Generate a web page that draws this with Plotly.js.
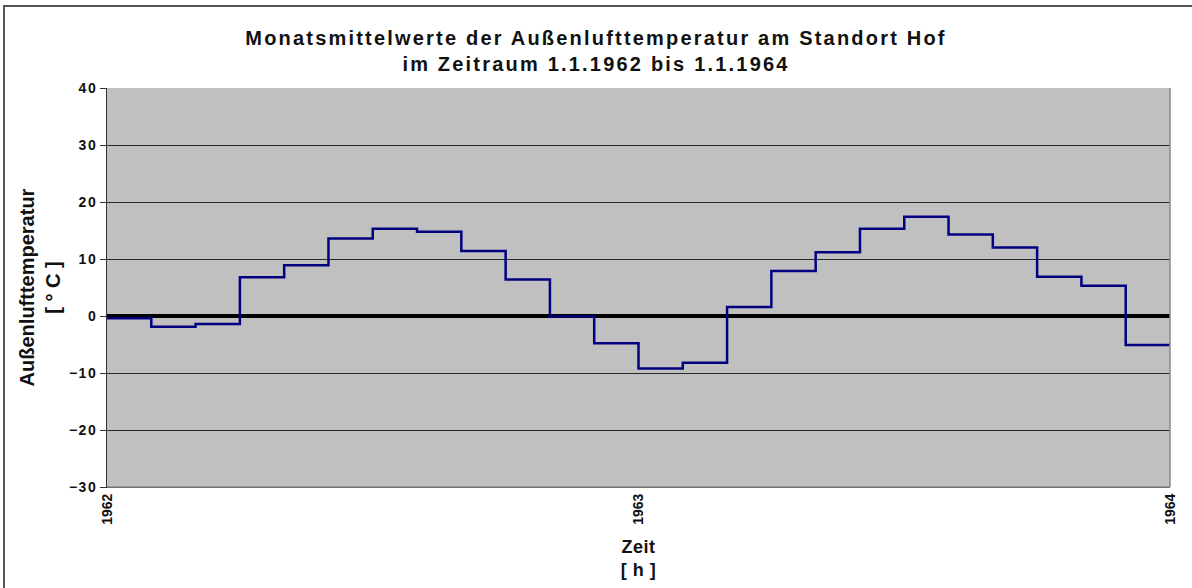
<!DOCTYPE html>
<html>
<head>
<meta charset="utf-8">
<script src="https://cdn.plot.ly/plotly-3.0.1.min.js"></script>
<style>
  body { margin: 0; background: #fff; }
  #chart { width: 1192px; height: 588px; }
  #frame { position: absolute; left: 3px; top: 5px; width: 1300px; height: 700px;
           border-left: 2px solid #555; border-top: 2px solid #555; pointer-events: none; }
  /* the original picture is stretched sideways; widen horizontal text a bit */
  .gtitle { letter-spacing: 2.2px; }
  .ytick text { letter-spacing: 1.5px; }
  .g-xtitle text { letter-spacing: 0.5px; }
</style>
</head>
<body>
<div id="chart"></div>
<div id="frame"></div>
<script>
// monthly means, Jan 1962 .. Dec 1963
const monthIndex = [0, 1, 2, 3, 4, 5, 6, 7, 8, 9, 10, 11, 12, 13, 14, 15, 16, 17, 18, 19, 20, 21, 22, 23, 24]
const temps = [-0.4, -1.9, -1.4, 6.8, 8.9, 13.6, 15.3, 14.8, 11.4, 6.4, -0.1, -4.8,
               -9.2, -8.2, 1.6, 7.9, 11.2, 15.3, 17.4, 14.3, 12.0, 6.9, 5.3, -5.1]
const yearTicks = [0, 12, 24]
const yearLabels = ['1962', '1963', '1964']

// repeat last value so the final step reaches 1964
const yVals = temps.concat([temps[temps.length - 1]])

const trace = {
  type: 'scatter',
  mode: 'lines',
  x: monthIndex,
  y: yVals,
  line: {shape: 'hv', color: '#000080', width: 2.5},
  hoverinfo: 'skip'
}

const fam = 'Liberation Sans, Arial, sans-serif'
const tickFont = {family: fam, size: 14, color: '#111', weight: 'bold'}

const layout = {
  width: 1192,
  height: 588,
  margin: {l: 107, r: 22, t: 88, b: 101},
  paper_bgcolor: '#ffffff',
  plot_bgcolor: '#c0c0c0',
  showlegend: false,
  title: {
    text: 'Monatsmittelwerte der Außenlufttemperatur am Standort Hof<br>im Zeitraum 1.1.1962 bis 1.1.1964',
    font: {family: fam, size: 20, color: '#111', weight: 'bold'},
    xref: 'container', x: 0.5, y: 0.923, yanchor: 'top'
  },
  xaxis: {
    range: [0, 24],
    tickvals: yearTicks,
    ticktext: yearLabels,
    tickangle: -90,
    tickfont: tickFont,
    ticks: '',
    showgrid: false,
    zeroline: false,
    showline: true,
    linecolor: '#333',
    linewidth: 1,
    title: {text: 'Zeit<br>[ h ]', font: {family: fam, size: 18, color: '#111', weight: 'bold'}, standoff: 16}
  },
  yaxis: {
    range: [-30, 40],
    dtick: 10,
    tickfont: tickFont,
    ticks: 'outside',
    ticklen: 6,
    tickcolor: '#333',
    showgrid: true,
    gridcolor: '#2a2a2a',
    gridwidth: 1,
    zeroline: true,
    zerolinecolor: '#000',
    zerolinewidth: 4.5,
    showline: true,
    linecolor: '#333',
    linewidth: 1,
    title: {text: 'Außenlufttemperatur<br>[ ° C ]', font: {family: fam, size: 20, color: '#111', weight: 'bold'}, standoff: 2}
  },
  shapes: [
    {type: 'line', xref: 'paper', yref: 'paper', x0: 1, x1: 1, y0: 0, y1: 1,
     line: {color: '#888', width: 1.5}},
    {type: 'line', xref: 'paper', yref: 'paper', x0: 0, x1: 1, y0: 0, y1: 0,
     line: {color: '#888', width: 1.5}}
  ]
}

Plotly.newPlot('chart', [trace], layout, {staticPlot: true, displayModeBar: false})
</script>
</body>
</html>
